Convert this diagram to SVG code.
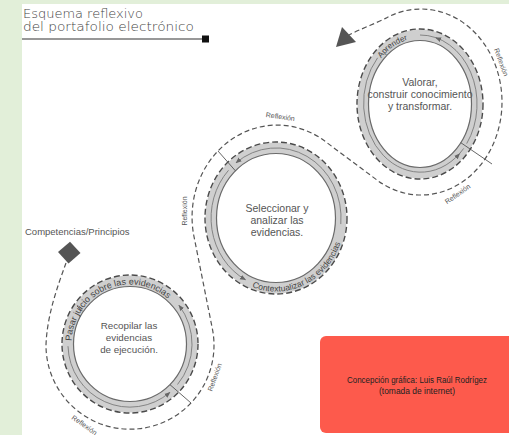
<svg xmlns="http://www.w3.org/2000/svg" width="509" height="435" viewBox="0 0 509 435">
<defs>
<style>
.band{fill:#fff;stroke:#cfcfcf;stroke-width:11}
.inner{fill:none;stroke:#6a6a6a;stroke-width:1.2}
.outer{fill:none;stroke:#4a4a4a;stroke-width:1.4;stroke-dasharray:6 3}
.aline{fill:none;stroke:#7a7a7a;stroke-width:0.9;marker-end:url(#ah)}
.tick{stroke:#555;stroke-width:0.9}
.ctext{font-family:"Liberation Sans",Arial,sans-serif;fill:#555;text-anchor:middle}
.rtext{font-family:"Liberation Sans",Arial,sans-serif;fill:#444}
.refl{font-family:"Liberation Sans",Arial,sans-serif;font-size:7px;fill:#555;text-anchor:middle}
.path{fill:none;stroke:#555;stroke-width:1.2;stroke-dasharray:5 3}
</style>
<marker id="ah" viewBox="0 0 10 10" refX="9" refY="5" markerWidth="6" markerHeight="6" markerUnits="userSpaceOnUse" orient="auto"><path d="M0,1 L10,5 L0,9 z" fill="#666"/></marker>
<path id="tp1" d="M378.6,61.6 A54,66 0 0 1 429.4,39"/>
<path id="tp2" d="M250.3,286.2 A68.5,73.5 0 0 0 344.2,224.4"/>
<path id="tp3" d="M71.5,341.9 A58.5,59.5 0 0 1 169.1,299.8"/>
</defs>
<rect width="509" height="435" fill="#fff"/>
<rect x="0" y="0" width="22" height="435" fill="#e2efd9"/>
<rect x="0" y="0" width="509" height="4" fill="#e2efd9"/>

<g id="title">
<text x="23" y="18" font-family="DejaVu Sans,sans-serif" font-weight="200" font-size="12" fill="#444" textLength="120" lengthAdjust="spacingAndGlyphs">Esquema reflexivo</text>
<text x="23" y="31" font-family="DejaVu Sans,sans-serif" font-weight="200" font-size="12" fill="#444" textLength="171" lengthAdjust="spacingAndGlyphs">del portafolio electrónico</text>
<line x1="22" y1="39" x2="203" y2="39" stroke="#333" stroke-width="1.2"/>
<rect x="202" y="35.5" width="7" height="7" fill="#111"/>
</g>

<g id="connectors">
<path class="path" d="M66,263 C58,285 47,315 46,345 A84,84 0 1 0 212.2,327.9 L193.9,236.1 A85,92 0 0 1 322,139 L378.1,180.9 A81,93 0 1 0 386.8,17.7 C376,23.3 358,30 349,35"/>
<polygon points="342,27 356,42 336,47" fill="#555"/>
<text class="refl" transform="translate(83,427) rotate(35)">Reflexión</text>
<text class="refl" transform="translate(217,378) rotate(-70)">Reflexión</text>
<text class="refl" transform="translate(187,211) rotate(-90)">Reflexión</text>
<text class="refl" transform="translate(280,119) rotate(8)">Reflexión</text>
<text class="refl" transform="translate(499,63) rotate(70)">Reflexión</text>
<text class="refl" transform="translate(459,196) rotate(-35)">Reflexión</text>
</g>

<g id="competencias">
<text x="25" y="235" font-family="Liberation Sans,Arial,sans-serif" font-size="9.5" fill="#555">Competencias/Principios</text>
<polygon points="70,241.7 80.5,253 68.5,263.5 58,252" fill="#555"/>
</g>

<g id="node-valorar">
<ellipse class="band" cx="420" cy="104" rx="57" ry="69"/>
<ellipse class="inner" cx="420" cy="104" rx="51.5" ry="63.5"/>
<ellipse class="outer" cx="420" cy="104" rx="63" ry="75"/>
<path class="aline" style="marker-end:none" d="M466.7,143.6 A57,69 0 0 0 420,35"/>
<path class="aline" style="marker-end:none" d="M377.6,57.8 A57,69 0 1 0 463.7,148.4"/>
<path class="aline" d="M439.5,39.2 L435.7,37.7"/>
<path class="aline" d="M456.6,156.9 L459.6,153.6"/>
<line class="tick" x1="460.8" y1="142.7" x2="492" y2="164"/>
<text class="rtext" style="font-size:8px"><textPath href="#tp1" startOffset="4">Aprender</textPath></text>
<text class="ctext" style="font-size:10.5px" x="420" y="86">Valorar,</text>
<text class="ctext" style="font-size:10.5px" x="420" y="98">construir conocimiento</text>
<text class="ctext" style="font-size:10.5px" x="420" y="110">y transformar.</text>
</g>

<g id="node-seleccionar">
<ellipse class="band" cx="276" cy="218" rx="65" ry="70"/>
<ellipse class="inner" cx="276" cy="218" rx="59.5" ry="64.5"/>
<ellipse class="outer" cx="276" cy="218" rx="71" ry="76"/>
<path class="aline" d="M340.8,224.1 A65,70 0 0 0 236,162.8"/>
<path class="aline" d="M228.5,170.3 A65,70 0 0 0 245.5,279.8"/>
<line class="tick" x1="235.4" y1="170.8" x2="218" y2="151"/>
<text class="rtext" style="font-size:8.5px"><textPath href="#tp2" startOffset="2">Contextualizar las evidencias</textPath></text>
<text class="ctext" style="font-size:10.5px" x="277" y="212">Seleccionar y</text>
<text class="ctext" style="font-size:10.5px" x="277" y="224">analizar las</text>
<text class="ctext" style="font-size:10.5px" x="277" y="236">evidencias.</text>
</g>

<g id="node-recopilar">
<ellipse class="band" cx="130" cy="344" rx="62" ry="63"/>
<ellipse class="inner" cx="130" cy="344" rx="56.5" ry="57.5"/>
<ellipse class="outer" cx="130" cy="344" rx="68" ry="69"/>
<path class="aline" d="M68,346.2 A62,63 0 0 0 169.9,392.3"/>
<path class="aline" d="M177.5,384.5 A62,63 0 0 0 178.9,305.2"/>
<line class="tick" x1="170" y1="384.7" x2="191" y2="403"/>
<line class="tick" x1="82.5" y1="311" x2="77" y2="306"/>
<text class="rtext" style="font-size:9px"><textPath href="#tp3" startOffset="1">Pasar juicio sobre las evidencias</textPath></text>
<text class="ctext" style="font-size:9.8px" x="129" y="329">Recopilar las</text>
<text class="ctext" style="font-size:9.8px" x="129" y="341">evidencias</text>
<text class="ctext" style="font-size:9.8px" x="129" y="353">de ejecución.</text>
</g>

<g id="credit">
<rect x="320" y="336" width="200" height="97" rx="6" fill="#fd5a4c"/>
<text x="417" y="383" font-family="Liberation Sans,Arial,sans-serif" font-size="8.5" fill="#222" text-anchor="middle" textLength="140" lengthAdjust="spacingAndGlyphs">Concepción gráfica: Luis Raúl Rodrígez</text>
<text x="417" y="394" font-family="Liberation Sans,Arial,sans-serif" font-size="8.5" fill="#222" text-anchor="middle" textLength="76" lengthAdjust="spacingAndGlyphs">(tomada de internet)</text>
</g>
</svg>
